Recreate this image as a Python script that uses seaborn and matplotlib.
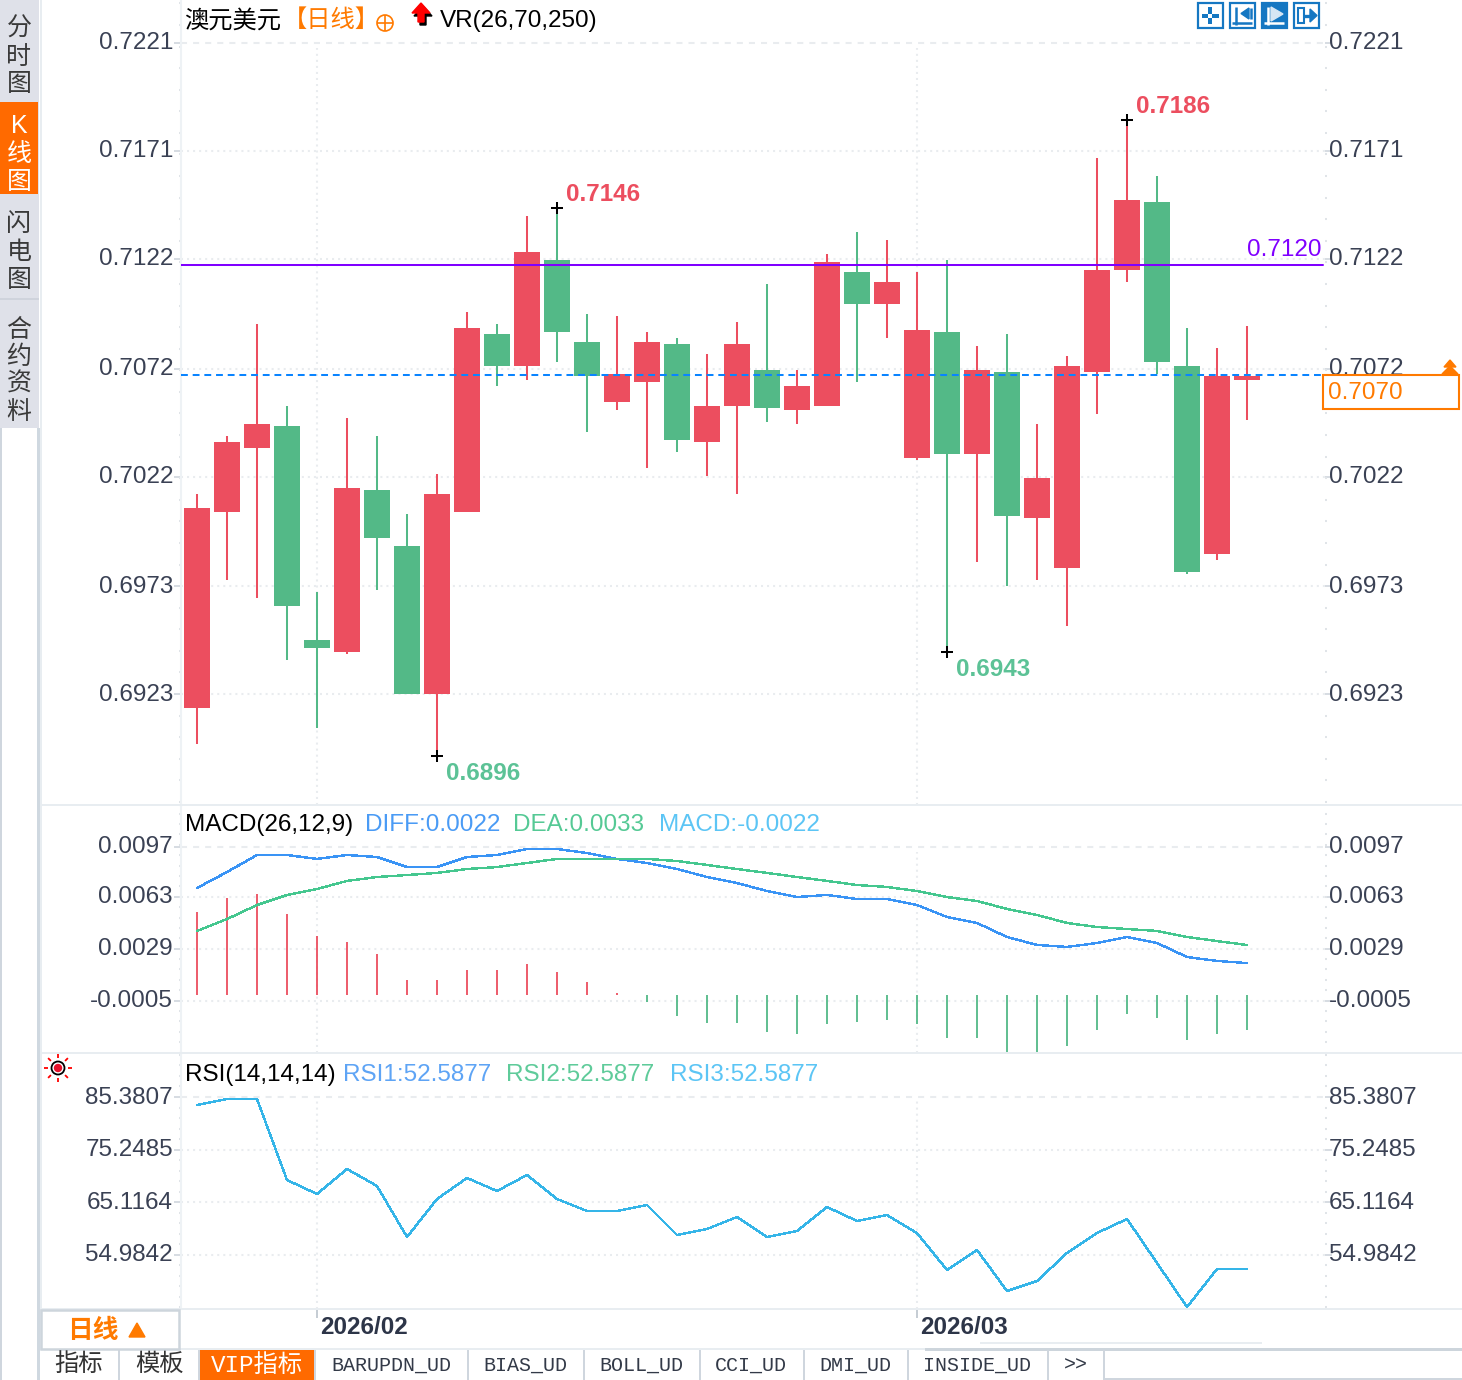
import numpy as np
import pandas as pd
import matplotlib
matplotlib.use('Agg')
import matplotlib.pyplot as plt
import seaborn as sns
from matplotlib.patches import Rectangle, Polygon, Circle
from matplotlib.ticker import AutoMinorLocator
from matplotlib.transforms import ScaledTranslation

# Daily candles
open_price = [0.69179, 0.70073, 0.70364, 0.70465, 0.69489, 0.69434, 0.70173, 0.69917, 0.69243, 0.70073,
              0.70884, 0.70738, 0.71222, 0.70848, 0.70574, 0.70665, 0.70838, 0.70392, 0.70556, 0.70720,
              0.70538, 0.70556, 0.71167, 0.71021, 0.70319, 0.70893, 0.70337, 0.70711, 0.70045, 0.69817,
              0.70711, 0.71176, 0.71486, 0.70738, 0.69881, 0.70674]
close_price = [0.70091, 0.70392, 0.70474, 0.69644, 0.69452, 0.70182, 0.69954, 0.69243, 0.70155, 0.70911,
               0.70738, 0.71258, 0.70893, 0.70693, 0.70702, 0.70848, 0.70401, 0.70556, 0.70838, 0.70547,
               0.70647, 0.71212, 0.71021, 0.71121, 0.70902, 0.70337, 0.70720, 0.70054, 0.70227, 0.70738,
               0.71176, 0.71495, 0.70756, 0.69799, 0.70693, 0.70693]
high_price = [0.70155, 0.70419, 0.70930, 0.70556, 0.69708, 0.70501, 0.70419, 0.70063, 0.70246, 0.70984,
              0.70930, 0.71422, 0.71459, 0.70975, 0.70966, 0.70893, 0.70866, 0.70793, 0.70939, 0.71112,
              0.70720, 0.71249, 0.71349, 0.71313, 0.71167, 0.71222, 0.70829, 0.70884, 0.70474, 0.70784,
              0.71687, 0.71860, 0.71605, 0.70911, 0.70820, 0.70921]
low_price = [0.69015, 0.69762, 0.69680, 0.69398, 0.69088, 0.69425, 0.69717, 0.69243, 0.68960, 0.70073,
             0.70647, 0.70674, 0.70756, 0.70437, 0.70538, 0.70273, 0.70346, 0.70237, 0.70155, 0.70483,
             0.70474, 0.70556, 0.70665, 0.70866, 0.70309, 0.69434, 0.69844, 0.69735, 0.69762, 0.69553,
             0.70519, 0.71121, 0.70702, 0.69790, 0.69853, 0.70492]

price_ticks = [0.72212, 0.71720, 0.71228, 0.70726, 0.70234, 0.69735, 0.69243]
price_labels = ['0.7221', '0.7171', '0.7122', '0.7072', '0.7022', '0.6973', '0.6923']
last_price = 0.70697
resist_price = 0.7120

diff = [0.00710, 0.00816, 0.00929, 0.00929, 0.00903, 0.00929, 0.00916, 0.00849, 0.00849, 0.00916,
        0.00929, 0.00969, 0.00969, 0.00942, 0.00903, 0.00876, 0.00836, 0.00783, 0.00743, 0.00690,
        0.00650, 0.00664, 0.00637, 0.00637, 0.00597, 0.00518, 0.00478, 0.00385, 0.00332, 0.00319,
        0.00345, 0.00385, 0.00345, 0.00252, 0.00226, 0.00212]
dea = [0.00425, 0.00504, 0.00597, 0.00664, 0.00703, 0.00757, 0.00783, 0.00796, 0.00810, 0.00836,
       0.00849, 0.00876, 0.00903, 0.00903, 0.00903, 0.00903, 0.00889, 0.00863, 0.00836, 0.00810,
       0.00783, 0.00757, 0.00730, 0.00717, 0.00690, 0.00650, 0.00624, 0.00571, 0.00531, 0.00478,
       0.00451, 0.00438, 0.00425, 0.00385, 0.00358, 0.00332]
macd = [0.00551, 0.00644, 0.00670, 0.00538, 0.00392, 0.00352, 0.00272, 0.00100, 0.00100, 0.00166,
        0.00166, 0.00206, 0.00153, 0.00086, 0.00010, -0.00046, -0.00139, -0.00186, -0.00186, -0.00246,
        -0.00259, -0.00192, -0.00179, -0.00166, -0.00192, -0.00285, -0.00285, -0.00400, -0.00400, -0.00338,
        -0.00232, -0.00126, -0.00153, -0.00299, -0.00259, -0.00232]
macd_ticks = [0.009821, 0.006523, 0.003072, -0.000378]
macd_labels = ['0.0097', '0.0063', '0.0029', '-0.0005']

rsi = [83.84, 84.99, 84.99, 69.39, 66.69, 71.51, 68.23, 58.40, 65.72, 69.77,
       67.27, 70.35, 65.72, 63.41, 63.41, 64.57, 58.79, 59.94, 62.26, 58.40,
       59.56, 64.18, 61.49, 62.64, 59.17, 52.04, 55.90, 47.99, 49.92, 55.32,
       59.17, 61.87, 53.39, 44.91, 52.24, 52.24]
rsi_ticks = [85.3807, 75.2485, 65.1164, 54.9842]
rsi_labels = ['85.3807', '75.2485', '65.1164', '54.9842']

month_days = [4, 24]
month_labels = ['2026/02', '2026/03']
side_tabs = ['分时图', 'K线图', '闪电图', '合约资料']
bottom_tabs = ['BARUPDN_UD', 'BIAS_UD', 'BOLL_UD', 'CCI_UD', 'DMI_UD', 'INSIDE_UD', '>>']

RED = '#ec4e5f'
GREEN = '#53b987'
ORANGE = '#ff7a00'
TAB_ORANGE = '#ff6a00'
TEXT = '#3a4154'
GRID = '#e9ecef'
LINE = '#e8edf1'
BLUE = '#3a94f5'
TEAL = '#45c78f'
SKY = '#35b5e8'
ICON = '#1577c2'
DOTS = (0, (1, 2))

sns.set_theme(style='white')
plt.rcParams['font.family'] = ['Liberation Sans', 'Noto Sans CJK SC', 'DejaVu Sans']

W, H = 1462, 1380
fig = plt.figure(figsize=(W / 100, H / 100), dpi=100, facecolor='white')
x_range = ((181 - 197) / 30, (1325 - 197) / 30)


def panel(top, bottom):
    ax = fig.add_axes([181 / W, 1 - bottom / H, (1325 - 181) / W, (bottom - top) / H])
    ax.set_facecolor('none')
    ax.set_xlim(x_range)
    return ax


def style_y(ax, ticks, labels):
    ax.set_yticks(ticks, labels=labels)
    ax.yaxis.set_minor_locator(AutoMinorLocator(5))
    ax.tick_params(axis='y', which='major', left=True, right=True, labelleft=True, labelright=True,
                   length=5, width=1.2, color='#cfd6dd', labelsize=17.5, labelcolor=TEXT, pad=0)
    ax.tick_params(axis='y', which='minor', left=True, right=True, length=1.5, width=1.45, color='#e0e4e8')
    ax.tick_params(axis='x', which='both', bottom=False, labelbottom=False)
    ax.grid(axis='y', which='major', color=GRID, lw=1.45, ls=DOTS)
    ax.yaxis.get_gridlines()[0].set_linestyle((0, (3, 3)))
    for side in ['top', 'right', 'bottom']:
        ax.spines[side].set_visible(False)
    ax.spines['left'].set_color('#eef2f5')
    ax.spines['left'].set_linewidth(1.45)
    ax.set(xlabel='', ylabel='')
    # nudge the labels to where the terminal puts them
    for tick in ax.yaxis.get_major_ticks():
        tick.label1.set_transform(tick.label1.get_transform()
                                  + ScaledTranslation(-1 / 100, 2 / 100, fig.dpi_scale_trans))
        tick.label2.set_transform(tick.label2.get_transform()
                                  + ScaledTranslation(-3 / 100, 2 / 100, fig.dpi_scale_trans))


days = np.arange(len(close_price))
frame = pd.DataFrame({'day': days, 'diff': diff, 'dea': dea, 'macd': macd, 'rsi': rsi})

# Candles
ax_k = panel(0, 805)
ax_k.set_ylim(0.68737, 0.72407)
style_y(ax_k, price_ticks, price_labels)
for d in month_days:
    ax_k.axvline(d, ymax=0.94, color=GRID, lw=1.45, ls=DOTS, zorder=1)
colors = [RED if c >= o else GREEN for o, c in zip(open_price, close_price)]
ax_k.vlines(days, low_price, high_price, colors=colors, lw=1.45, zorder=2)
ax_k.bar(days, np.array(close_price) - np.array(open_price), bottom=open_price, width=0.867,
         color=colors, linewidth=0, zorder=3)
ax_k.axhline(resist_price, xmax=0.998, color='#8000ff', lw=1.45, zorder=4)
ax_k.axhline(last_price, xmax=0.998, color='#0a84ff', lw=1.45, ls=(0, (3.4, 2.4)), zorder=4)
ax_k.annotate('0.7120', (37.5, resist_price), xytext=(0, 2.4), textcoords='offset points',
              color='#8000ff', fontsize=17.5, ha='right', va='bottom')

# High and low marks
for i, above in [(31, True), (12, True), (8, False), (25, False)]:
    val = high_price[i] if above else low_price[i]
    ax_k.plot(days[i], val, marker='+', ms=8, mew=1.45, color='black', zorder=5)
    ax_k.annotate(f'{val:.4f}', (days[i], val), xytext=(6.5, 9.6 if above else -12.4), textcoords='offset points',
                  color=RED if above else '#5cc296', fontsize=17.5, ha='left', va='center', fontweight='bold')

# MACD
ax_m = panel(805, 1053)
ax_m.set_ylim(-0.003849, 0.012608)
style_y(ax_m, macd_ticks, macd_labels)
for d in month_days:
    ax_m.axvline(d, ymax=0.81, color=GRID, lw=1.45, ls=DOTS, zorder=1)
ax_m.vlines(days, 0, macd, colors=[RED if m > 0 else GREEN for m in macd], lw=1.3, zorder=2)
sns.lineplot(data=frame, x='day', y='diff', ax=ax_m, color=BLUE, lw=1.0, estimator=None, antialiased=False, zorder=3)
sns.lineplot(data=frame, x='day', y='dea', ax=ax_m, color=TEAL, lw=1.0, estimator=None, antialiased=False, zorder=3)
ax_m.set(xlabel='', ylabel='')
ax_m.set_xlim(x_range)

# RSI
ax_r = panel(1053, 1309)
ax_r.set_ylim(44.53, 93.86)
style_y(ax_r, rsi_ticks, rsi_labels)
for d in month_days:
    ax_r.axvline(d, ymax=0.82, color=GRID, lw=1.45, ls=DOTS, zorder=1)
sns.lineplot(data=frame, x='day', y='rsi', ax=ax_r, color=SKY, lw=1.0, estimator=None, antialiased=False, zorder=3)
ax_r.set(xlabel='', ylabel='')
ax_r.set_xlim(x_range)
ax_r.set_xticks(month_days, labels=[])
ax_r.tick_params(axis='x', which='major', bottom=True, length=6.5, width=1.4, color='#c5ccd3')
for d, lab in zip(month_days, month_labels):
    ax_r.annotate(lab, (d, 0), xycoords=ax_r.get_xaxis_transform(), xytext=(2.2, -13.4),
                  textcoords='offset points', ha='left', va='center', fontsize=17.5,
                  fontweight='bold', color='#2d3548')

# Screen furniture drawn in pixel coordinates on top
ov = fig.add_axes([0, 0, 1, 1], zorder=20)
ov.set_xlim(0, W)
ov.set_ylim(H, 0)
ov.axis('off')
ov.patch.set_alpha(0)


def box(x0, y0, x1, y1, face='none', edge='none', lw=0.0, z=2):
    ov.add_patch(Rectangle((x0, y0), x1 - x0, y1 - y0, facecolor=face, edgecolor=edge, linewidth=lw, zorder=z))


def label(x, y, s, color='black', size=17.5, ha='left', **kw):
    ov.text(x, y + 2, s, color=color, fontsize=size, ha=ha, va='center', zorder=6, **kw)


def seg(xs, ys, color, lw=1.4, z=5):
    ov.plot(xs, ys, color=color, lw=lw, solid_capstyle='butt', zorder=z)


# Side tabs
box(0, 0, 39, 428, face='#dfe1e9')
box(0, 102, 38, 194, face=TAB_ORANGE)
box(0, 298, 39, 300, face='#cfd3dc')
box(0, 428, 2, H, face='#cfd6de')
box(37, 428, 40, H, face='#cfd8e0')
tab_rows = [[27, 55, 82], [124, 152, 180], [222, 250, 278], [328, 355, 382, 410]]
for tab, rows in zip(side_tabs, tab_rows):
    for ch, y in zip(tab, rows):
        label(19, y, ch, color='white' if tab == 'K线图' else '#3a3a3a', size=18, ha='center')
box(40, 0, 41.5, 1350, face=LINE)

# Panel separators
for y in [805, 1053, 1309]:
    box(40, y - 1, W, y + 1, face=LINE)

# Headers
label(184, 19, '澳元美元')
label(283, 19, '【日线】', color=ORANGE)
ov.add_patch(Circle((385, 23), 8, fill=False, edgecolor=ORANGE, lw=1.2, zorder=5))
seg([377, 393], [23, 23], ORANGE, 1.2)
seg([385, 385], [15, 31], ORANGE, 1.2)
arrow = np.array([[421, 3], [430, 13], [424, 13], [424, 22], [418, 22], [418, 13], [412, 13]])
ov.add_patch(Polygon(arrow + [2, 3], closed=True, color='black', zorder=4))
ov.add_patch(Polygon(arrow, closed=True, color='#ff0000', zorder=5))
label(440, 19, 'VR(26,70,250)')

label(185, 823, 'MACD(26,12,9)')
label(365, 823, 'DIFF:0.0022', color='#4a9bf5')
label(513, 823, 'DEA:0.0033', color='#55c995')
label(659, 823, 'MACD:-0.0022', color='#5cc5f5')
label(185, 1073, 'RSI(14,14,14)')
label(343, 1073, 'RSI1:52.5877', color='#5ea4f5')
label(506, 1073, 'RSI2:52.5877', color='#5fcb9a')
label(670, 1073, 'RSI3:52.5877', color='#5cc5f5')

# Sun icon
for a in np.deg2rad(np.arange(0, 360, 45)):
    seg([58 + 10 * np.cos(a), 58 + 14 * np.cos(a)], [1068 + 10 * np.sin(a), 1068 + 14 * np.sin(a)], '#ff0000', 1.3)
ov.add_patch(Circle((58, 1068), 6.5, fill=False, edgecolor='black', lw=1.3, zorder=5))
ov.add_patch(Circle((58, 1068), 3.5, color='#e8102a', zorder=6))

# Toolbar icons
for i, x in enumerate([1197, 1229, 1261, 1293]):
    box(x + 1, 3, x + 26, 28, face=ICON if i == 2 else 'white', edge=ICON, lw=1.6, z=4)
box(1201.5, 13.5, 1208, 17.5, face=ICON, z=5)
box(1212, 13.5, 1218.5, 17.5, face=ICON, z=5)
box(1208, 7, 1212, 13.5, face=ICON, z=5)
box(1208, 17.5, 1212, 24, face=ICON, z=5)
seg([1235.5, 1235.5], [7, 25], ICON, 1.8)
seg([1232, 1252], [23, 23], ICON, 1.8)
seg([1251, 1251], [8, 19], ICON, 1.8)
ov.add_patch(Polygon([[1241, 13.5], [1249, 8], [1249, 19]], closed=True, color=ICON, zorder=5))
seg([1267.5, 1267.5], [7, 25], 'white', 1.8)
seg([1264, 1284], [23, 23], 'white', 1.8)
ov.add_patch(Polygon([[1271, 7], [1283, 14], [1271, 21]], closed=True, color='#d6e6f4', zorder=5))
box(1298, 8, 1304, 23, edge=ICON, lw=1.5, z=5)
seg([1304, 1312], [15.5, 15.5], ICON, 2.4)
ov.add_patch(Polygon([[1310, 9], [1317, 15.5], [1310, 22]], closed=True, color=ICON, zorder=5))

# Last price box
box(1323, 374.5, 1459, 408.5, face='white', edge=ORANGE, lw=1.5, z=4)
label(1328, 391, '0.7070', color=ORANGE)
ov.add_patch(Polygon([[1450, 360], [1456, 367], [1444, 367]], closed=True, color=ORANGE, zorder=5))
ov.add_patch(Polygon([[1450, 366], [1458, 374], [1442, 374]], closed=True, color=ORANGE, zorder=5))

# Period box
box(41, 1310, 179, 1349, face='white', edge='#cdd5dc', lw=1.8, z=3)
label(67, 1329, '日线', color=ORANGE, size=18.5, fontweight='bold')
ov.add_patch(Polygon([[137, 1323], [145, 1337], [129, 1337]], closed=True, color=ORANGE, zorder=5))

# Bottom tabs
box(40, 1348, 925, 1350, face=LINE)
box(925, 1348, W, 1350.5, face='#cdd5dc')
box(980, 1342, 1262, 1343.5, face=LINE)
box(200, 1350, 314, H, face=TAB_ORANGE)
for x in [118, 198, 314, 467, 583, 699, 803, 907, 1047, 1103]:
    box(x, 1350, x + 2, H, face='#cfd6de')
box(1103, 1378, W, 1380, face='#cfd6de')
label(79, 1363, '指标', color='#333333', size=17.5, ha='center')
label(159, 1363, '模板', color='#333333', size=17.5, ha='center')
label(257, 1363, 'VIP指标', color='white', size=17.5, ha='center',
      family=['Liberation Mono', 'Noto Sans CJK SC'])
for name, cx in zip(bottom_tabs, [391, 525, 641, 751, 855, 977, 1076]):
    label(cx, 1363, name, color='#333a48', size=14.4, ha='center', family='Liberation Mono')

fig.savefig('out.png', dpi=100)
